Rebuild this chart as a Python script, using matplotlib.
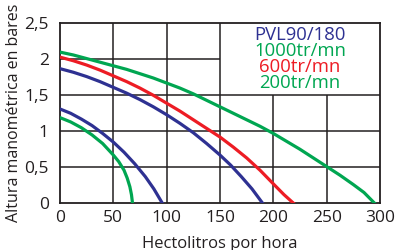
import matplotlib

matplotlib.use("Agg")
import matplotlib.pyplot as plt

# valores (hectolitros/hora -> bares)
green_hi_x = [0, 12.5, 25, 37.5, 50, 62.5, 75, 87.5, 100, 112.5, 125, 137.5, 150,
              162.5, 175, 187.5, 200, 212.5, 225, 237.5, 250, 262.5, 275, 285, 295]
green_hi_y = [2.10, 2.06, 2.01, 1.96, 1.91, 1.86, 1.80, 1.74, 1.67, 1.60, 1.52, 1.43, 1.34,
              1.25, 1.16, 1.07, 0.97, 0.86, 0.75, 0.63, 0.51, 0.39, 0.26, 0.15, 0.0]

red_x = [0, 12.5, 25, 37.5, 50, 62.5, 75, 87.5, 100, 112.5, 125, 137.5, 150,
         162.5, 175, 187.5, 200, 210, 219]
red_y = [2.03, 1.98, 1.92, 1.85, 1.77, 1.69, 1.60, 1.50, 1.39, 1.28, 1.16, 1.04, 0.92,
         0.78, 0.63, 0.46, 0.27, 0.12, 0.0]

blue_hi_x = [0, 12.5, 25, 37.5, 50, 62.5, 75, 87.5, 100, 112.5, 125, 137.5, 150,
             160, 170, 180, 190]
blue_hi_y = [1.87, 1.82, 1.76, 1.69, 1.61, 1.53, 1.44, 1.34, 1.23, 1.11, 0.98, 0.83, 0.67,
             0.53, 0.37, 0.20, 0.0]

blue_lo_x = [0, 10, 20, 30, 40, 50, 60, 70, 80, 88, 96]
blue_lo_y = [1.31, 1.25, 1.17, 1.08, 0.97, 0.85, 0.71, 0.55, 0.37, 0.20, 0.0]

green_lo_x = [0, 10, 20, 30, 40, 50, 55, 60, 63, 65.5, 67, 68]
green_lo_y = [1.19, 1.13, 1.05, 0.95, 0.83, 0.67, 0.58, 0.46, 0.35, 0.23, 0.12, 0.0]

x_ticks = [0, 50, 100, 150, 200, 250, 300]
y_ticks = [0, 0.5, 1, 1.5, 2, 2.5]
y_tick_labels = ["0", "0,5", "1", "1,5", "2", "2,5"]

legend_lines = ["PVL90/180", "1000tr/mn", "600tr/mn", "200tr/mn"]
legend_y = [2.34, 2.11, 1.89, 1.67]

BLUE = "#2e3192"
GREEN = "#00a651"
RED = "#ed1c24"
INK = "#231f20"

plt.rcParams["font.family"] = ["Open Sans", "DejaVu Sans"]

fig = plt.figure(figsize=(3.98, 2.5), dpi=100)
ax = fig.add_axes([60 / 398, 1 - 203.3 / 250, 320 / 398, 180 / 250])
ax.set_xlim(0, 300)
ax.set_ylim(0, 2.5)

# cuadrícula (el recuadro de la leyenda queda sin líneas)
ax.vlines([50, 100, 150], 0, 2.5, color=INK, lw=1.1, zorder=1)
ax.vlines([200, 250], 0, 1.5, color=INK, lw=1.1, zorder=1)
ax.hlines([0.5, 1.0, 1.5], 0, 300, color=INK, lw=1.1, zorder=1)
ax.hlines([2.0], 0, 150, color=INK, lw=1.1, zorder=1)

lw = 2.3
ax.plot(green_hi_x, green_hi_y, color=GREEN, lw=lw, zorder=3)
ax.plot(red_x, red_y, color=RED, lw=lw, zorder=3)
ax.plot(blue_hi_x, blue_hi_y, color=BLUE, lw=lw, zorder=3)
ax.plot(blue_lo_x, blue_lo_y, color=BLUE, lw=lw, zorder=3)
ax.plot(green_lo_x, green_lo_y, color=GREEN, lw=lw, zorder=3)

for txt, yy, c in zip(legend_lines, legend_y, [BLUE, GREEN, RED, GREEN]):
    ax.text(225, yy, txt, color=c, fontsize=13.3, ha="center", va="center")

for s in ax.spines.values():
    s.set_color(INK)
    s.set_linewidth(1.3)

ax.set_xticks(x_ticks)
ax.set_yticks(y_ticks)
ax.set_yticklabels(y_tick_labels)
ax.tick_params(length=0, labelsize=12.5, colors=INK)
ax.tick_params(axis="x", pad=5)
ax.tick_params(axis="y", pad=8)

ax.set_xlabel("Hectolitros por hora", fontsize=12, color=INK, labelpad=7)
ax.set_ylabel("Altura manométrica en bares", fontsize=11.5, color=INK, labelpad=2)

fig.savefig("out.png", dpi=100)
